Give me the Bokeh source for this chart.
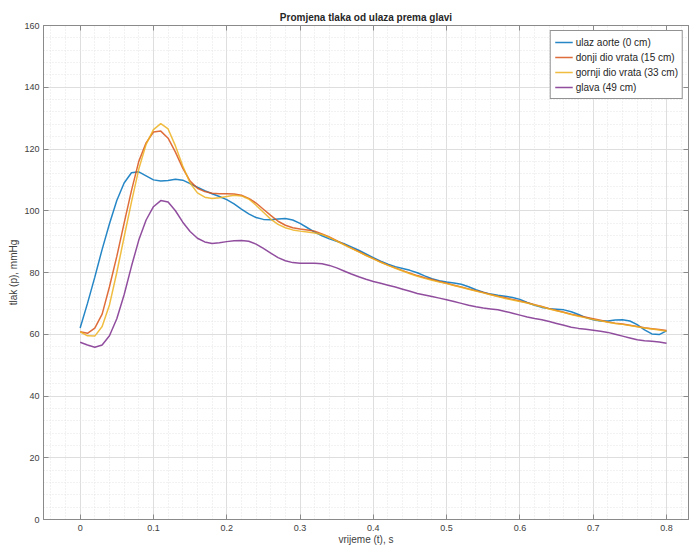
from bokeh.plotting import figure
from bokeh.models import (ColumnDataSource, Legend, LegendItem, LinearAxis,
                          SingleIntervalTicker, Range1d, CustomLabelingPolicy)
from bokeh.embed import file_html
from bokeh.resources import INLINE

# ---- data ----
t = [round(i * 0.01, 2) for i in range(81)]

ulaz_aorte = [62.0, 70.0, 78.5, 87.5, 95.8, 103.3, 109.0, 112.3, 112.6, 111.3,
              110.0, 109.6, 109.8, 110.2, 109.9, 108.8, 107.6, 106.5, 105.5, 104.6,
              103.6, 102.2, 100.5, 99.0, 97.8, 97.2, 97.1, 97.3, 97.5, 97.0,
              95.9, 94.5, 93.1, 91.9, 90.9, 90.1, 89.3, 88.3, 87.2, 86.0,
              84.8, 83.7, 82.7, 81.9, 81.3, 80.7, 79.9, 78.9, 78.0, 77.3,
              76.9, 76.6, 76.2, 75.4, 74.4, 73.6, 73.0, 72.6, 72.3, 71.9,
              71.3, 70.3, 69.4, 68.7, 68.3, 68.1, 67.9, 67.3, 66.4, 65.4,
              64.7, 64.3, 64.3, 64.6, 64.7, 64.3, 63.1, 61.4, 60.1, 59.9,
              61.1]

donji_dio = [60.8, 60.3, 62.0, 66.5, 75.4, 85.2, 96.0, 106.5, 116.0, 122.0,
             125.5, 125.8, 123.5, 119.0, 113.8, 109.6, 107.3, 106.2, 105.7, 105.5,
             105.5, 105.4, 105.0, 104.0, 102.5, 100.5, 98.5, 96.6, 95.3, 94.5,
             94.1, 93.8, 93.4, 92.5, 91.5, 90.3, 89.1, 87.9, 86.8, 85.6,
             84.5, 83.4, 82.4, 81.5, 80.6, 79.8, 79.0, 78.3, 77.7, 77.1,
             76.5, 75.9, 75.3, 74.7, 74.1, 73.5, 72.9, 72.3, 71.8, 71.3,
             70.8, 70.2, 69.6, 69.0, 68.3, 67.7, 67.1, 66.5, 66.0, 65.5,
             65.0, 64.5, 64.0, 63.6, 63.3, 62.9, 62.5, 62.1, 61.8, 61.5,
             61.2]

gornji_dio = [60.8, 59.5, 59.4, 62.5, 69.5, 80.0, 91.5, 102.8, 113.5, 121.5,
              126.3, 128.2, 126.5, 121.0, 114.5, 109.0, 105.8, 104.4, 104.0, 104.2,
              104.6, 105.0, 104.8, 103.8, 101.8, 99.5, 97.3, 95.6, 94.5, 93.8,
              93.4, 93.1, 92.8, 92.3, 91.4, 90.2, 89.0, 87.8, 86.7, 85.5,
              84.4, 83.3, 82.3, 81.4, 80.5, 79.6, 78.8, 78.1, 77.5, 76.9,
              76.4, 75.8, 75.2, 74.6, 74.0, 73.4, 72.8, 72.2, 71.6, 71.1,
              70.6, 70.1, 69.5, 68.9, 68.2, 67.6, 67.0, 66.4, 65.8, 65.3,
              64.8, 64.4, 63.9, 63.5, 63.2, 62.8, 62.4, 62.0, 61.7, 61.4,
              61.0]

glava = [57.4, 56.5, 55.8, 56.5, 59.5, 65.0, 72.8, 82.0, 90.5, 97.0,
         101.3, 103.3, 102.8, 100.0, 96.3, 93.3, 91.1, 89.9, 89.4, 89.6,
         90.0, 90.3, 90.4, 90.1, 89.2, 87.8, 86.3, 84.8, 83.8, 83.2,
         83.0, 83.0, 83.0, 82.8, 82.3, 81.5, 80.5, 79.5, 78.6, 77.8,
         77.1, 76.5, 75.9, 75.3, 74.6, 73.9, 73.2, 72.7, 72.2, 71.7,
         71.2, 70.6, 70.0, 69.4, 68.9, 68.5, 68.2, 67.9, 67.4, 66.8,
         66.2, 65.6, 65.1, 64.7, 64.1, 63.5, 62.9, 62.3, 61.9, 61.6,
         61.3, 61.0, 60.6, 60.0, 59.4, 58.8, 58.2, 57.9, 57.7, 57.5,
         57.1]

series_names = ["ulaz aorte (0 cm)", "donji dio vrata (15 cm)",
                "gornji dio vrata (33 cm)", "glava (49 cm)"]
series_values = [ulaz_aorte, donji_dio, gornji_dio, glava]
series_colors = ["#0072BD", "#D95319", "#EDB120", "#7E2F8E"]

title_text = "Promjena tlaka od ulaza prema glavi"
x_label = "vrijeme (t), s"
y_label = "tlak (p), mmHg"

FONT = "Liberation Sans"
TXT = "#404040"
AX = "#8a8a8a"

p = figure(frame_width=645, frame_height=494, output_backend="svg",
           toolbar_location=None,
           x_range=Range1d(-0.05, 0.83), y_range=Range1d(0, 160),
           min_border_left=43, min_border_right=2, min_border_top=25,
           min_border_bottom=10)

p.title.text = title_text
p.title.text_font = FONT
p.title.text_font_size = "10px"
p.title.text_font_style = "bold"
p.title.text_color = "#262626"
p.title.align = "center"
p.title.standoff = 5
p.title.offset = 0

xt = SingleIntervalTicker(interval=0.1, num_minor_ticks=5)
yt = SingleIntervalTicker(interval=20, num_minor_ticks=5)

p.xaxis.ticker = xt
p.yaxis.ticker = yt
p.xaxis.axis_label = x_label
p.yaxis.axis_label = y_label

for ax in (p.xaxis[0], p.yaxis[0]):
    ax.axis_label_text_font = FONT
    ax.axis_label_text_font_size = "10px"
    ax.axis_label_text_font_style = "normal"
    ax.axis_label_text_color = TXT
    ax.major_label_text_font = FONT
    ax.major_label_text_font_size = "9px"
    ax.major_label_text_color = TXT
    ax.axis_line_color = AX
    ax.major_tick_line_color = AX
    ax.major_tick_in = 5
    ax.major_tick_out = 0
    ax.minor_tick_in = 0
    ax.minor_tick_out = 0
p.xaxis[0].major_label_standoff = 5
p.xaxis[0].axis_label_standoff = 0
p.yaxis[0].major_label_standoff = 4
p.yaxis[0].axis_label_standoff = 2

# boxed axes (ticks on top and right, no labels drawn)
no_labels = "return new indices.constructor(indices.size, 0)"
top = LinearAxis(ticker=SingleIntervalTicker(interval=0.1),
                 major_label_policy=CustomLabelingPolicy(code=no_labels))
right = LinearAxis(ticker=SingleIntervalTicker(interval=20),
                   major_label_policy=CustomLabelingPolicy(code=no_labels))
for ax in (top, right):
    ax.major_label_text_font_size = "0px"
    ax.major_label_standoff = 0
    ax.axis_line_color = AX
    ax.major_tick_line_color = AX
    ax.major_tick_in = 5
    ax.major_tick_out = 0
    ax.minor_tick_in = 0
    ax.minor_tick_out = 0
p.add_layout(top, "above")
p.add_layout(right, "right")

p.outline_line_color = AX

for g in (p.xgrid[0], p.ygrid[0]):
    g.grid_line_color = "#dedede"
    g.grid_line_width = 1
    g.minor_grid_line_color = "#e4e4e4"
    g.minor_grid_line_dash = "1 2"
    g.minor_grid_line_width = 1

items = []
for name, vals, col in zip(series_names, series_values, series_colors):
    src = ColumnDataSource(dict(t=t, p=vals))
    r = p.line("t", "p", source=src, line_color=col, line_width=1.5, line_alpha=0.85)
    items.append(LegendItem(label=name, renderers=[r]))

legend = Legend(items=items, location="top_right")
legend.label_text_font = FONT
legend.label_text_font_size = "10px"
legend.label_text_color = "#262626"
legend.border_line_color = "#262626"
legend.border_line_width = 1
legend.background_fill_color = "white"
legend.background_fill_alpha = 1
legend.glyph_width = 18
legend.glyph_height = 14
legend.label_height = 14
legend.label_standoff = 3
legend.spacing = 1
legend.padding = 4
legend.margin = 5
p.add_layout(legend, "center")

open("out.html", "w").write(file_html(p, INLINE))
